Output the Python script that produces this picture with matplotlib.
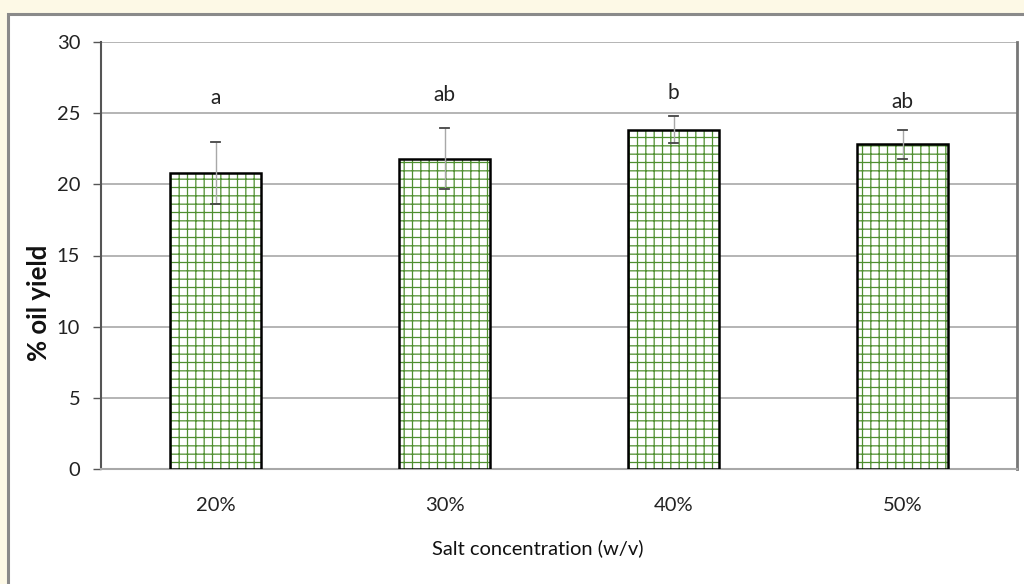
import matplotlib.pyplot as plt
import matplotlib.patches as mpatches
import numpy as np

# data
categories = ["20%", "30%", "40%", "50%"]
oil_yield = [20.8, 21.8, 23.85, 22.8]
yield_err = [2.15, 2.15, 0.95, 1.05]
letters = ["a", "ab", "b", "ab"]
letter_y = [26.1, 26.25, 26.45, 25.75]

plt.rcParams['font.family'] = ['Lato', 'DejaVu Sans']
plt.rcParams['hatch.linewidth'] = 0.9

W, H = 1024, 584
fig = plt.figure(figsize=(W / 100, H / 100), dpi=100)
fig.patch.set_facecolor("#fdf9e6")

# white panel with grey frame, behind the axes
panel = mpatches.Rectangle((8 / W, -0.1), 1.1, 1.1 - 14 / H, transform=fig.transFigure,
                           facecolor="white", edgecolor="#8a8a8a", linewidth=2.2, zorder=-5)
fig.patches.append(panel)

ax = fig.add_axes([101 / W, 1 - 469 / H, (1017 - 101) / W, (469 - 42) / H])
ax.set_facecolor("white")

x = np.arange(len(categories))
ax.bar(x, oil_yield, width=0.4, color="white", edgecolor="#4f8f30",
       hatch="++", linewidth=0, zorder=3)
ax.bar(x, oil_yield, width=0.4, color="none", edgecolor="black",
       linewidth=1.8, zorder=4)
ax.errorbar(x, oil_yield, yerr=yield_err, fmt="none", ecolor="#a8a8a8",
            elinewidth=1.0, capsize=0, zorder=5)
for cap_x, v, e in zip(x, oil_yield, yield_err):
    ax.plot([cap_x - 0.02, cap_x + 0.02], [v + e, v + e], color="#444444", lw=1.3, zorder=6)
    ax.plot([cap_x - 0.02, cap_x + 0.02], [v - e, v - e], color="#444444", lw=1.3, zorder=6)

for lx, ly, t in zip(x, letter_y, letters):
    ax.text(lx, ly, t, ha="center", va="center", fontsize=15, color="#222222")

ax.set_xlim(-0.5, 3.5)
ax.set_ylim(0, 30)
ax.set_yticks(range(0, 31, 5))
ax.set_xticks(x)
ax.set_xticklabels(categories)
ax.yaxis.grid(True, color="#a8a8a8", linewidth=1.2, zorder=0)
ax.set_axisbelow(True)

ax.spines["top"].set_visible(False)
ax.spines["left"].set_color("#555555")
ax.spines["left"].set_linewidth(1.5)
ax.spines["right"].set_color("#777777")
ax.spines["right"].set_linewidth(2.0)
ax.spines["bottom"].set_color("#a8a8a8")
ax.spines["bottom"].set_linewidth(1.5)

ax.tick_params(axis="y", length=6, width=1.0, color="#555555", labelsize=14.5,
               labelcolor="#222222", pad=9)
ax.tick_params(axis="x", length=0, labelsize=14.5, labelcolor="#222222", pad=20)

# axis titles sit off-centre in the original
fig.text(39 / W, 1 - 303 / H, "% oil yield", rotation=90, ha="center", va="center",
         fontsize=18.5, fontweight="bold", color="#111111")
fig.text(538 / W, 1 - 548 / H, "Salt concentration (w/v)", ha="center", va="center",
         fontsize=14.5, color="#111111")

fig.savefig("out.png", dpi=100, facecolor=fig.get_facecolor())
